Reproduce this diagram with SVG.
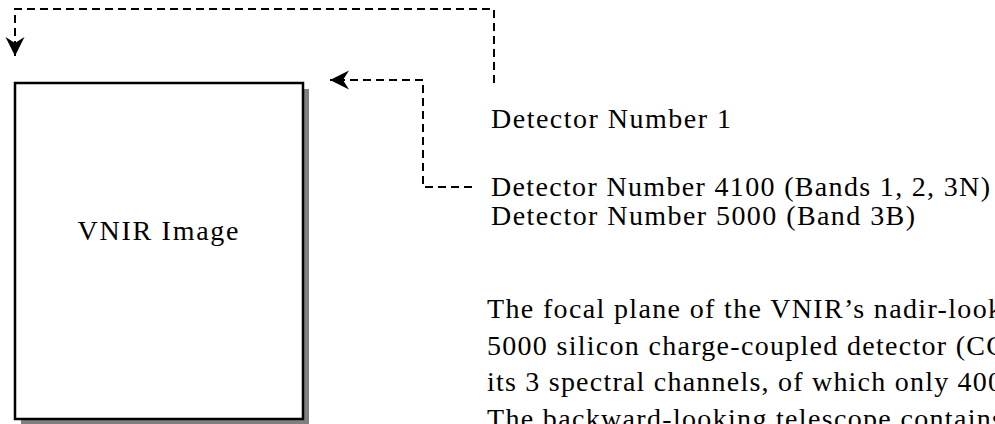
<svg xmlns="http://www.w3.org/2000/svg" width="995" height="424" viewBox="0 0 995 424">
  <style>
    .t { font-family: "Liberation Serif", "Times New Roman", serif; font-size: 28px; fill: #000; }
    .conn { fill: none; stroke: #000; stroke-width: 2; stroke-dasharray: 8 5; }
  </style>
  <defs>
    <marker id="arrow" markerUnits="userSpaceOnUse" markerWidth="22" markerHeight="22" viewBox="-20 -10 22 20" refX="0" refY="0" orient="auto">
      <path d="M0,0 L-19,-9.5 L-13,0 L-19,9.5 Z" fill="#000"/>
    </marker>
  </defs>
  <rect width="995" height="424" fill="#fff"/>

  <g id="vnir-image">
    <rect x="21" y="89" width="288" height="336" fill="#808080"/>
    <rect x="15" y="83" width="288" height="336" fill="#fff" stroke="#000" stroke-width="2.5"/>
    <text class="t" x="158" y="240" text-anchor="middle" textLength="161">VNIR Image</text>
  </g>

  <g id="detector-labels">
    <text class="t" x="491" y="128" textLength="240">Detector Number 1</text>
    <text class="t" x="491" y="196" textLength="499">Detector Number 4100 (Bands 1, 2, 3N)</text>
    <text class="t" x="491" y="225" textLength="424">Detector Number 5000 (Band 3B)</text>
  </g>

  <g id="description">
    <text class="t" x="487" y="318" textLength="515">The focal plane of the VNIR’s nadir-look</text>
    <text class="t" x="487" y="355" textLength="518">5000 silicon charge-coupled detector (CC</text>
    <text class="t" x="487" y="391" textLength="515">its 3 spectral channels, of which only 400</text>
    <text class="t" x="487" y="428" textLength="516">The backward-looking telescope contains</text>
  </g>

  <g id="connectors">
    <path class="conn" d="M494,83 V9 H15 V56" marker-end="url(#arrow)"/>
    <path class="conn" d="M472,187 H423 V80 H330" marker-end="url(#arrow)"/>
  </g>
</svg>
